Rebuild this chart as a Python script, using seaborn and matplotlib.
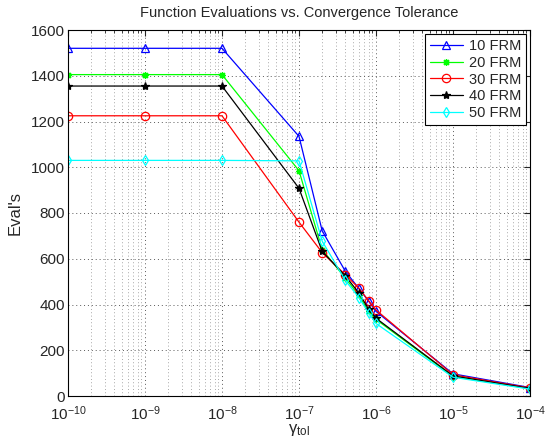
import matplotlib
matplotlib.use("Agg")
import matplotlib.pyplot as plt
import seaborn as sns
import pandas as pd
import numpy as np

tol = [1e-10, 1e-9, 1e-8, 1e-7, 2e-7, 4e-7, 6e-7, 8e-7, 1e-6, 1e-5, 1e-4]
frm10 = [1520, 1520, 1520, 1135, 722, 545, 470, 415, 370, 97, 37]
frm20 = [1405, 1405, 1405, 985, 640, 515, 440, 370, 335, 85, 32]
frm30 = [1225, 1225, 1225, 760, 627, 530, 471, 417, 376, 93, 35]
frm40 = [1355, 1355, 1355, 908, 632, 525, 450, 380, 340, 88, 33]
frm50 = [1030, 1030, 1030, 1028, 677, 505, 430, 363, 317, 82, 30]
labels = ["10 FRM", "20 FRM", "30 FRM", "40 FRM", "50 FRM"]

series = [frm10, frm20, frm30, frm40, frm50]
colors = ["#0000ff", "#00ff00", "#ff0000", "#000000", "#00ffff"]
markers = ["^", (8, 2, 0), "o", "*", "d"]
filled = [False, True, False, True, False]
msizes = [6, 5, 6, 6, 5]

sns.set_style("white")
plt.rcParams["font.family"] = ["Liberation Sans", "DejaVu Sans"]
plt.rcParams["mathtext.fontset"] = "custom"
plt.rcParams["mathtext.rm"] = "Liberation Sans"
plt.rcParams["mathtext.it"] = "Liberation Sans:italic"
plt.rcParams["mathtext.sf"] = "Liberation Sans"

fig = plt.figure(figsize=(5.47, 4.43), dpi=100)
ax = fig.add_axes([68 / 547, 47 / 443, (530 - 68) / 547, (396 - 30) / 443])

for lab, vals, c, m, f, ms in zip(labels, series, colors, markers, filled, msizes):
    df = pd.DataFrame({"tol": tol, "evals": vals})
    sns.lineplot(data=df, x="tol", y="evals", ax=ax, color=c, marker=m,
                 markersize=ms, linewidth=0.9, label=lab,
                 markerfacecolor=(c if f else "none"), markeredgecolor=c,
                 markeredgewidth=0.9)

ax.set_xscale("log")
ax.set_xlim(1e-10, 1e-4)
ax.set_ylim(0, 1600)
ax.set_yticks(np.arange(0, 1601, 200))
ax.set_xticks([1e-10, 1e-9, 1e-8, 1e-7, 1e-6, 1e-5, 1e-4])

ax.grid(True, which="major", linestyle=(0, (1, 3)), color="0.35", linewidth=0.7)
ax.grid(True, which="minor", axis="x", linestyle=(0, (1, 3)), color="0.55", linewidth=0.6)
ax.tick_params(which="both", direction="in", top=True, right=True, labelsize=11)
ax.tick_params(which="major", length=4)
ax.tick_params(which="minor", length=2)
ax.tick_params(axis="x", which="major", pad=6)
ax.tick_params(axis="y", which="major", pad=2)
for s in ax.spines.values():
    s.set_color("black")
    s.set_linewidth(0.8)

ax.set_title("Function Evaluations vs. Convergence Tolerance", fontsize=10.5, pad=9)
ax.set_ylabel("Eval's", fontsize=12, labelpad=6)
ax.set_xlabel(r"$\mathregular{γ_{tol}}$", fontsize=12, labelpad=-1)

leg = ax.legend(loc="upper right", fontsize=10.5, frameon=True, fancybox=False,
                borderaxespad=0.3, handlelength=2.3, labelspacing=0.2,
                borderpad=0.3, handletextpad=0.4)
leg.get_frame().set_edgecolor("black")
leg.get_frame().set_linewidth(0.8)
leg.get_frame().set_alpha(1)

fig.savefig("out.png", dpi=100)
